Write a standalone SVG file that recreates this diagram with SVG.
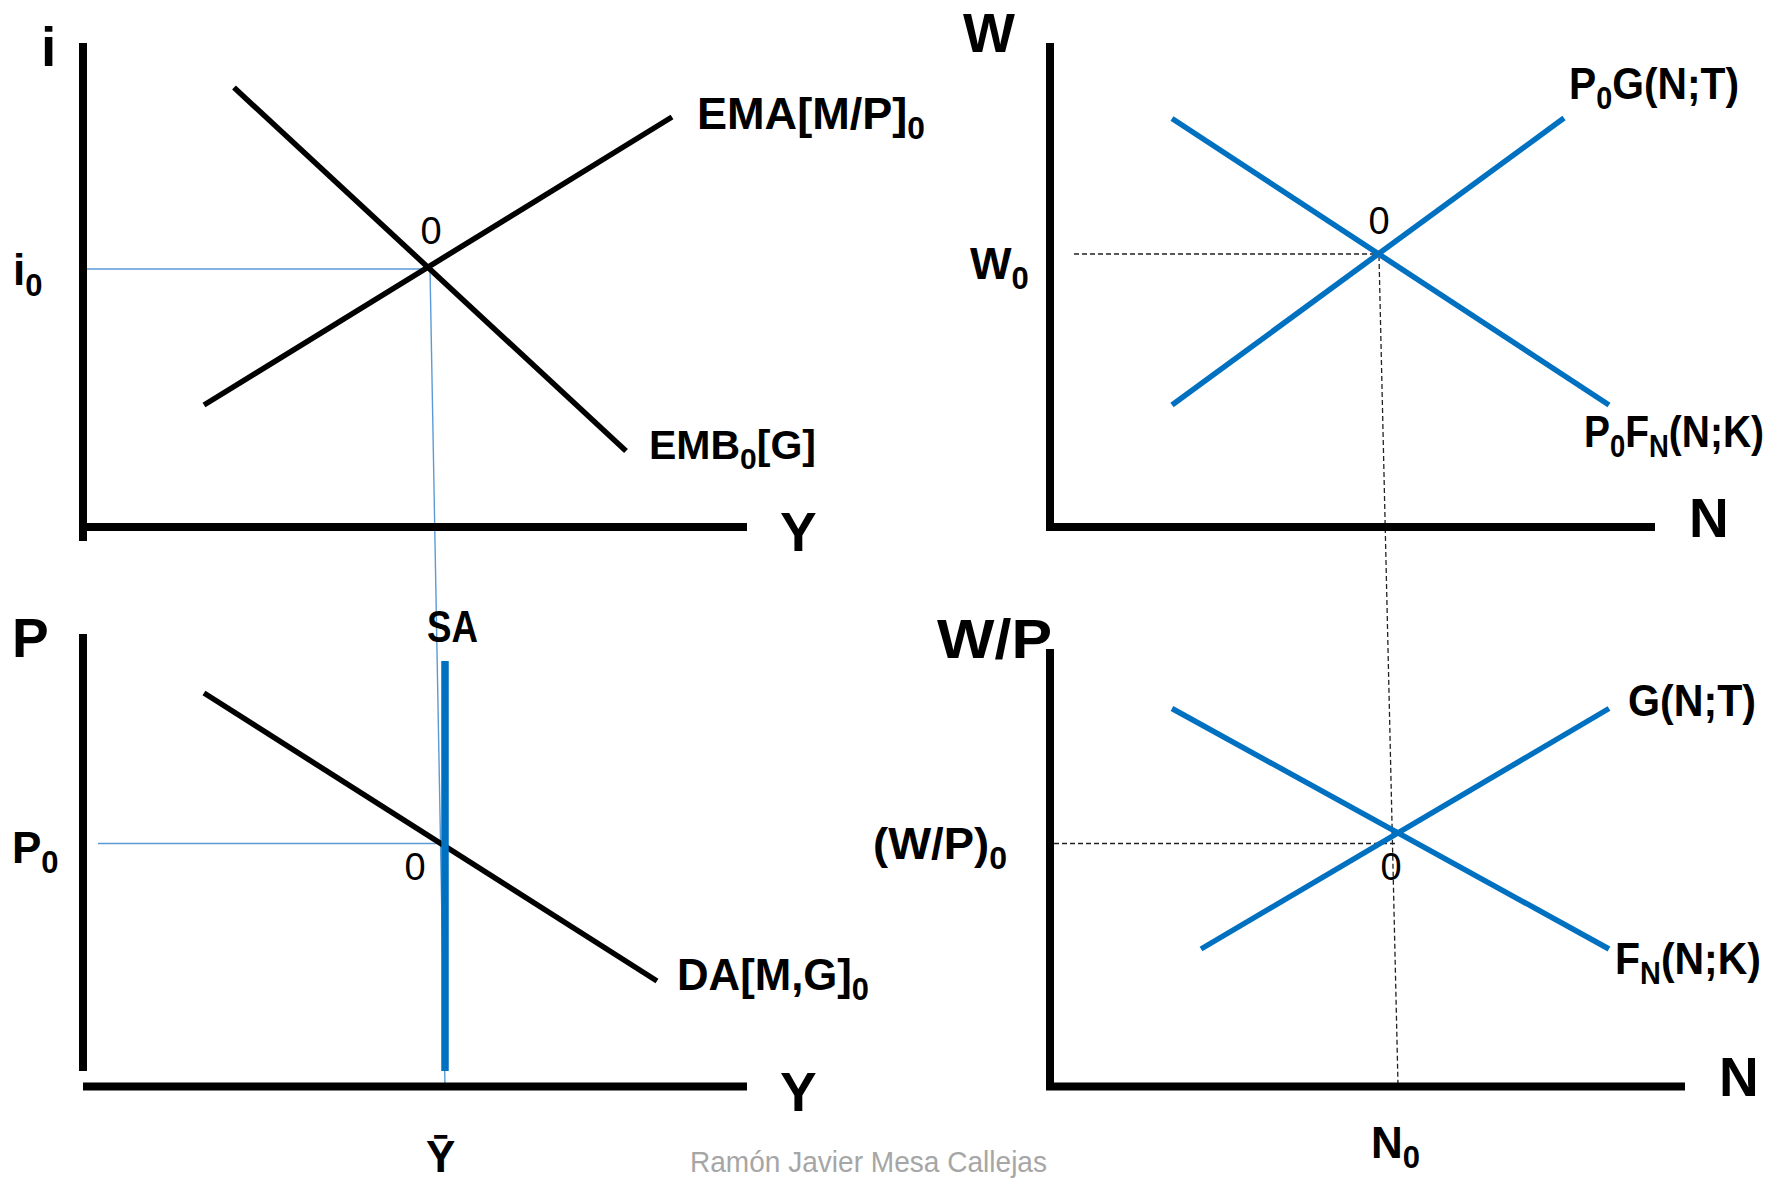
<svg xmlns="http://www.w3.org/2000/svg" width="1775" height="1179" viewBox="0 0 1775 1179">
<style>
.ax{stroke:#000;stroke-width:8;fill:none}
.cb{stroke:#000;stroke-width:5.5;fill:none}
.cu{stroke:#0070C0;stroke-width:5.5;fill:none}
.guide{stroke:#5B9BD5;stroke-width:1.4;fill:none}
.dash{stroke:#222;stroke-width:1.3;stroke-dasharray:5 3;fill:none}
text{font-family:"Liberation Sans",Arial,sans-serif;fill:#000}
.big{font-weight:bold;font-size:55px}
.lab{font-weight:bold;font-size:44px}
.zero{font-size:38px;text-anchor:middle}
.wm{font-size:30px;fill:#A6A6A6}
</style>
<rect width="1775" height="1179" fill="#fff"/>

<g id="connectors">
<polyline class="guide" points="83,269 430,269 445,1087"/>
<line class="guide" x1="98" y1="843.5" x2="442" y2="843.5"/>
<line class="dash" x1="1074" y1="254" x2="1378" y2="254"/>
<line class="dash" x1="1379" y1="256" x2="1398" y2="1085"/>
<line class="dash" x1="1054" y1="843.5" x2="1396" y2="843.5"/>
</g>

<g id="panel-money-goods">
<line class="ax" x1="83" y1="43" x2="83" y2="541"/>
<line class="ax" x1="79" y1="527" x2="747" y2="527"/>
<line class="cb" x1="234" y1="87.5" x2="626" y2="451"/>
<line class="cb" x1="204" y1="405" x2="672" y2="117"/>
<text class="big" x="41" y="66">i</text>
<text class="lab" x="13" y="285">i<tspan font-size="31" dy="11">0</tspan></text>
<text class="big" x="780" y="551">Y</text>
<text class="zero" x="431" y="244">0</text>
<text class="lab" x="697" y="129" textLength="228" lengthAdjust="spacingAndGlyphs">EMA[M/P]<tspan font-size="31" dy="10">0</tspan></text>
<text class="lab" x="649" y="459" style="font-size:41px">EMB<tspan font-size="30" dy="10">0</tspan><tspan dy="-10">[G]</tspan></text>
</g>

<g id="panel-nominal-labor">
<line class="ax" x1="1050" y1="43" x2="1050" y2="531"/>
<line class="ax" x1="1046" y1="527" x2="1655" y2="527"/>
<line class="cu" x1="1172" y1="118.5" x2="1609" y2="405"/>
<line class="cu" x1="1172" y1="405" x2="1564" y2="118"/>
<text class="big" x="963" y="52">W</text>
<text class="lab" x="970" y="279">W<tspan font-size="31" dy="10">0</tspan></text>
<text class="big" x="1689" y="537">N</text>
<text class="zero" x="1379" y="234">0</text>
<text class="lab" x="1569" y="99" textLength="170" lengthAdjust="spacingAndGlyphs">P<tspan font-size="31" dy="10">0</tspan><tspan dy="-10">G(N;T)</tspan></text>
<text class="lab" x="1584" y="447" textLength="180" lengthAdjust="spacingAndGlyphs">P<tspan font-size="31" dy="10">0</tspan><tspan dy="-10">F</tspan><tspan font-size="31" dy="10">N</tspan><tspan dy="-10">(N;K)</tspan></text>
</g>

<g id="panel-aggregate">
<line class="ax" x1="83" y1="634" x2="83" y2="1071"/>
<line class="ax" x1="83" y1="1086.5" x2="747" y2="1086.5"/>
<line class="cb" x1="204" y1="693" x2="657" y2="981"/>
<line stroke="#0070C0" stroke-width="7.5" x1="445" y1="661" x2="445" y2="1071"/>
<text class="big" x="12" y="657">P</text>
<text class="lab" x="12" y="863">P<tspan font-size="31" dy="10">0</tspan></text>
<text class="big" x="780" y="1111">Y</text>
<text class="lab" x="426" y="1172">Ȳ</text>
<text class="lab" x="427" y="642" textLength="51" lengthAdjust="spacingAndGlyphs">SA</text>
<text class="zero" x="415" y="880">0</text>
<text class="lab" x="677" y="990" textLength="192" lengthAdjust="spacingAndGlyphs">DA[M,G]<tspan font-size="31" dy="10">0</tspan></text>
</g>

<g id="panel-real-labor">
<line class="ax" x1="1050" y1="649" x2="1050" y2="1090"/>
<line class="ax" x1="1046" y1="1086.5" x2="1685" y2="1086.5"/>
<line class="cu" x1="1172" y1="708.5" x2="1609" y2="949"/>
<line class="cu" x1="1201" y1="949" x2="1609" y2="708.5"/>
<text class="big" x="937" y="658" textLength="115" lengthAdjust="spacingAndGlyphs">W/P</text>
<text class="lab" x="873" y="859" textLength="134" lengthAdjust="spacingAndGlyphs">(W/P)<tspan font-size="31" dy="10">0</tspan></text>
<text class="big" x="1719" y="1096">N</text>
<text class="zero" x="1391" y="880">0</text>
<text class="lab" x="1628" y="716" textLength="128" lengthAdjust="spacingAndGlyphs">G(N;T)</text>
<text class="lab" x="1615" y="974" textLength="146" lengthAdjust="spacingAndGlyphs">F<tspan font-size="31" dy="10">N</tspan><tspan dy="-10">(N;K)</tspan></text>
<text class="lab" x="1371" y="1158">N<tspan font-size="31" dy="10">0</tspan></text>
</g>

<text class="wm" x="690" y="1172" textLength="357" lengthAdjust="spacingAndGlyphs">Ramón Javier Mesa Callejas</text>
</svg>
